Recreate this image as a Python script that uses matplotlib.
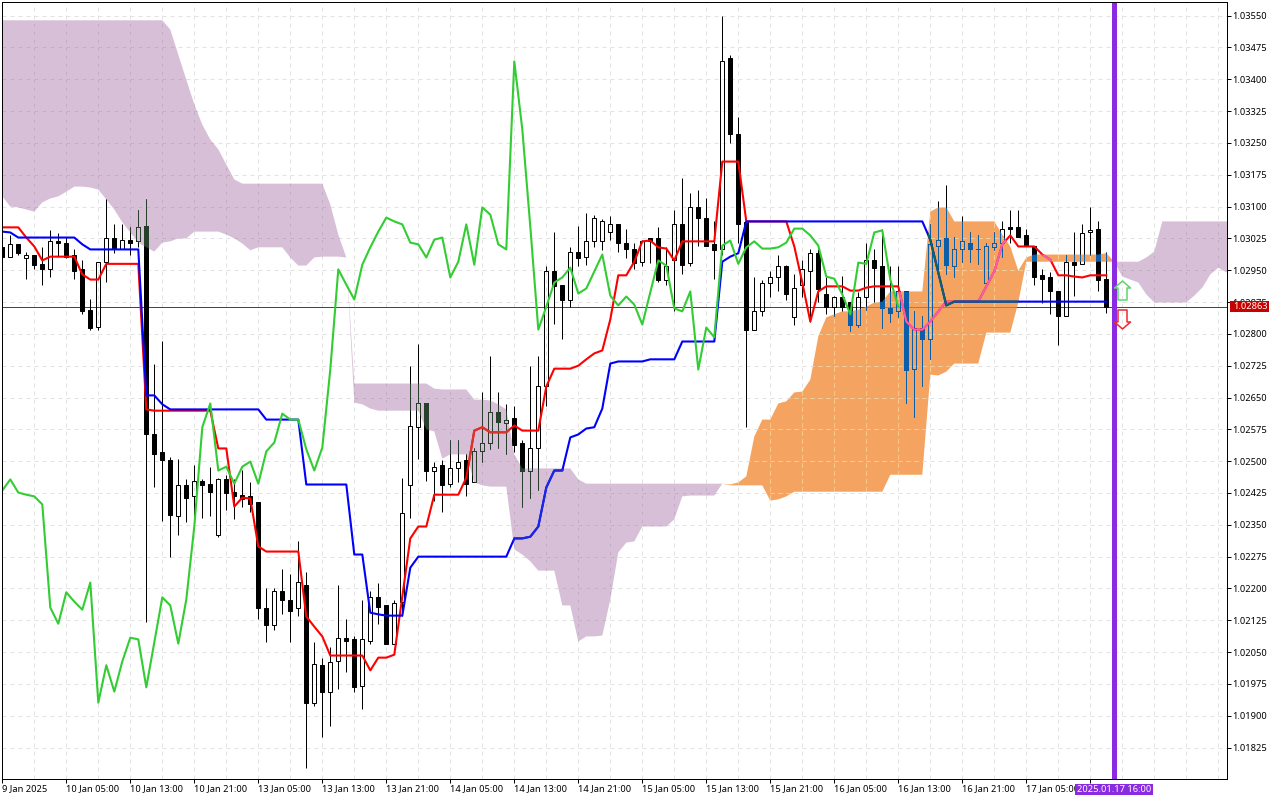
import numpy as np
import matplotlib
matplotlib.use("Agg")
import matplotlib.pyplot as plt
from matplotlib.path import Path
from matplotlib.patches import Rectangle

open_ = [1.03004,1.02980,1.03011,1.02978,1.02985,1.02965,1.02954,1.03018,1.03015,1.02985,
1.02952,1.02857,1.02817,1.02970,1.03027,1.02999,1.03022,1.03018,1.03055,1.02563,
1.02521,1.02502,1.02370,1.02445,1.02417,1.02454,1.02447,1.02325,1.02459,1.02428,
1.02421,1.02417,1.02403,1.02153,1.02115,1.02193,1.02172,1.02153,1.02209,1.01931,
1.02019,1.01955,1.02028,1.02084,1.02082,1.01969,1.02077,1.02179,1.02160,1.02070,
1.02167,1.02443,1.02580,1.02636,1.02476,1.02490,1.02447,1.02485,1.02502,1.02450,
1.02523,1.02544,1.02615,1.02591,1.02601,1.02542,1.02478,1.02532,1.02678,1.02949,
1.02914,1.02879,1.02992,1.02980,1.03018,1.03020,1.03041,1.03060,1.03013,1.03001,
1.02970,1.03025,1.03025,1.02928,1.02973,1.03058,1.02968,1.03098,1.03074,1.03011,
1.02999,1.03449,1.03272,1.03063,1.02810,1.02853,1.02921,1.02933,1.02959,1.02839,
1.02914,1.02949,1.02990,1.02895,1.02864,1.02888,1.02874,1.02820,1.02886,1.02975,
1.02959,1.02860,1.02853,1.02902,1.02718,1.02815,1.02789,1.03008,1.03025,1.02961,
1.03001,1.03015,1.03001,1.02919,1.03004,1.03013,1.03051,1.03051,1.03032,1.03006,
1.02938,1.02933,1.02902,1.02841,1.02970,1.02965,1.03039,1.03046,1.02930]
high = [1.03015,1.03034,1.03011,1.02994,1.02985,1.03004,1.03044,1.03037,1.03029,1.02999,
1.02973,1.02881,1.02970,1.03119,1.03058,1.03058,1.03053,1.03093,1.03117,1.02728,
1.02784,1.02511,1.02506,1.02459,1.02490,1.02459,1.02487,1.02461,1.02468,1.02457,
1.02480,1.02450,1.02403,1.02200,1.02202,1.02247,1.02235,1.02311,1.02240,1.02073,
1.02037,1.02061,1.02209,1.02127,1.02089,1.02174,1.02193,1.02214,1.02162,1.02174,
1.02461,1.02725,1.02775,1.02638,1.02499,1.02502,1.02551,1.02551,1.02516,1.02532,
1.02662,1.02749,1.02664,1.02634,1.02631,1.02551,1.02725,1.02747,1.02959,1.03041,
1.02914,1.03004,1.03055,1.03086,1.03081,1.03070,1.03077,1.03060,1.03048,1.03015,
1.03022,1.03027,1.03053,1.03004,1.03093,1.03168,1.03131,1.03140,1.03121,1.03065,
1.03548,1.03458,1.03310,1.03063,1.02933,1.02928,1.02947,1.02987,1.02963,1.02940,
1.02975,1.02999,1.02999,1.02935,1.02890,1.02937,1.02876,1.02898,1.03015,1.02999,
1.03046,1.02959,1.02961,1.02902,1.02853,1.02841,1.03058,1.03114,1.03150,1.03029,
1.03077,1.03039,1.03034,1.03013,1.03041,1.03067,1.03093,1.03091,1.03048,1.03006,
1.02952,1.02945,1.02902,1.02987,1.03039,1.03060,1.03098,1.03065,1.02994]
low = [1.02970,1.02980,1.02987,1.02930,1.02954,1.02916,1.02935,1.02980,1.02978,1.02930,
1.02846,1.02810,1.02810,1.02923,1.02990,1.02999,1.02987,1.03004,1.02122,1.02440,
1.02360,1.02273,1.02327,1.02356,1.02346,1.02367,1.02370,1.02322,1.02386,1.02363,
1.02391,1.02381,1.02127,1.02075,1.02101,1.02141,1.02073,1.02134,1.01776,1.01924,
1.01851,1.01875,1.01962,1.02002,1.01955,1.01917,1.02070,1.02117,1.02068,1.02068,
1.02134,1.02367,1.02504,1.02454,1.02405,1.02381,1.02438,1.02450,1.02419,1.02450,
1.02497,1.02528,1.02532,1.02516,1.02521,1.02393,1.02414,1.02433,1.02629,1.02824,
1.02787,1.02864,1.02961,1.02963,1.03004,1.02997,1.03022,1.02994,1.02978,1.02952,
1.02961,1.02968,1.02923,1.02916,1.02853,1.02940,1.02959,1.03006,1.03006,1.02930,
1.02987,1.03249,1.03015,1.02580,1.02808,1.02841,1.02888,1.02902,1.02879,1.02822,
1.02888,1.02829,1.02876,1.02846,1.02843,1.02853,1.02806,1.02817,1.02857,1.02876,
1.02815,1.02827,1.02839,1.02638,1.02603,1.02676,1.02740,1.02945,1.02942,1.02933,
1.02970,1.02970,1.02965,1.02914,1.02997,1.02980,1.03015,1.03029,1.03006,1.02916,
1.02872,1.02848,1.02773,1.02841,1.02890,1.02965,1.02987,1.02900,1.02850]
close = [1.02980,1.03011,1.02990,1.02985,1.02963,1.02952,1.03018,1.03015,1.02982,1.02947,
1.02855,1.02815,1.02970,1.03027,1.03001,1.03022,1.03013,1.03053,1.02563,1.02518,
1.02502,1.02372,1.02445,1.02414,1.02454,1.02445,1.02428,1.02459,1.02426,1.02419,
1.02410,1.02398,1.02153,1.02115,1.02193,1.02172,1.02148,1.02216,1.01931,1.02021,
1.01955,1.02026,1.02084,1.02077,1.01967,1.02080,1.02179,1.02157,1.02068,1.02165,
1.02377,1.02582,1.02638,1.02476,1.02487,1.02445,1.02485,1.02499,1.02447,1.02525,
1.02542,1.02615,1.02593,1.02598,1.02537,1.02476,1.02532,1.02678,1.02947,1.02912,
1.02879,1.02994,1.02978,1.03018,1.03074,1.03065,1.03060,1.03013,1.03001,1.02968,
1.03020,1.03018,1.02928,1.02961,1.03058,1.02963,1.03098,1.03072,1.03008,1.02997,
1.03444,1.03270,1.03058,1.02808,1.02855,1.02921,1.02933,1.02959,1.02893,1.02907,
1.02952,1.02990,1.02905,1.02864,1.02888,1.02864,1.02820,1.02888,1.02975,1.02956,
1.02860,1.02850,1.02900,1.02714,1.02815,1.02789,1.03011,1.03022,1.02963,1.03001,
1.03018,1.02999,1.02999,1.03006,1.03013,1.03048,1.03046,1.03029,1.03008,1.02935,
1.02930,1.02900,1.02843,1.02970,1.02963,1.03037,1.03044,1.02926,1.02863]

tenkan = [1.03051,1.03051,1.03051,1.03027,1.03006,1.02973,1.02982,1.02982,1.02982,1.02982,
1.02940,1.02928,1.02928,1.02965,1.02965,1.02965,1.02965,1.02965,1.02622,1.02619,
1.02619,1.02619,1.02619,1.02619,1.02619,1.02619,1.02619,1.02530,1.02530,1.02393,
1.02414,1.02412,1.02299,1.02287,1.02287,1.02287,1.02287,1.02287,1.02134,1.02110,
1.02087,1.02042,1.02042,1.02042,1.02042,1.02042,1.02007,1.02037,1.02037,1.02044,
1.02181,1.02318,1.02346,1.02346,1.02421,1.02421,1.02421,1.02421,1.02461,1.02572,
1.02580,1.02568,1.02568,1.02568,1.02584,1.02572,1.02572,1.02572,1.02676,1.02718,
1.02718,1.02718,1.02725,1.02740,1.02754,1.02761,1.02834,1.02938,1.02938,1.02970,
1.03018,1.03020,1.03004,1.03001,1.02973,1.03018,1.03018,1.03018,1.03018,1.03018,
1.03206,1.03206,1.03206,1.03065,1.03065,1.03065,1.03065,1.03065,1.03065,1.03006,
1.02921,1.02829,1.02900,1.02912,1.02912,1.02912,1.02902,1.02902,1.02909,1.02912,
1.02912,1.02912,1.02912,1.02829,1.02810,1.02810,1.02829,1.02853,1.02876,1.02876,
1.02876,1.02876,1.02876,1.02912,1.02947,1.03011,1.03032,1.03006,1.03006,1.03006,
1.02987,1.02975,1.02938,1.02938,1.02935,1.02933,1.02938,1.02938,1.02938]
kijun = [1.03041,1.03039,1.03027,1.03027,1.03027,1.03027,1.03027,1.03027,1.03027,1.03027,
1.03011,1.02999,1.02999,1.02999,1.02999,1.02999,1.02999,1.02999,1.02655,1.02655,
1.02634,1.02622,1.02622,1.02622,1.02622,1.02622,1.02622,1.02622,1.02622,1.02622,
1.02622,1.02622,1.02622,1.02598,1.02598,1.02598,1.02598,1.02598,1.02445,1.02445,
1.02445,1.02445,1.02445,1.02445,1.02280,1.02280,1.02143,1.02139,1.02136,1.02136,
1.02136,1.02249,1.02275,1.02275,1.02275,1.02275,1.02275,1.02275,1.02275,1.02275,
1.02275,1.02275,1.02275,1.02275,1.02318,1.02318,1.02322,1.02346,1.02438,1.02478,
1.02478,1.02556,1.02563,1.02577,1.02580,1.02624,1.02730,1.02735,1.02735,1.02735,
1.02735,1.02740,1.02740,1.02740,1.02740,1.02782,1.02782,1.02782,1.02782,1.02782,
1.02970,1.02982,1.02990,1.03065,1.03065,1.03065,1.03065,1.03065,1.03065,1.03065,
1.03065,1.03065,1.03065,1.03065,1.03065,1.03065,1.03065,1.03065,1.03065,1.03065,
1.03065,1.03065,1.03065,1.03065,1.03065,1.03065,1.03022,1.02945,1.02867,1.02876,
1.02876,1.02876,1.02876,1.02876,1.02876,1.02876,1.02876,1.02876,1.02876,1.02876,
1.02876,1.02876,1.02876,1.02876,1.02876,1.02876,1.02876,1.02876,1.02876]
chikou = [1.02431,1.02457,1.02426,1.02421,1.02417,1.02398,1.02155,1.02117,1.02191,1.02169,
1.02150,1.02214,1.01931,1.02019,1.01957,1.02028,1.02084,1.02080,1.01967,1.02073,
1.02179,1.02160,1.02070,1.02174,1.02346,1.02580,1.02636,1.02478,1.02487,1.02447,
1.02487,1.02499,1.02447,1.02523,1.02544,1.02612,1.02598,1.02598,1.02528,1.02478,
1.02532,1.02716,1.02952,1.02916,1.02881,1.02963,1.03004,1.03041,1.03074,1.03065,
1.03058,1.03015,1.03011,1.02980,1.03022,1.03027,1.02933,1.02970,1.03058,1.02963,
1.03098,1.03081,1.03011,1.02999,1.03442,1.03282,1.03053,1.02810,1.02864,1.02921,
1.02933,1.02956,1.02895,1.02907,1.02947,1.02987,1.02890,1.02867,1.02888,1.02869,
1.02822,1.02898,1.02973,1.02961,1.02860,1.02853,1.02900,1.02716,1.02815,1.02792,
1.03008,1.03020,1.02965,1.03004,1.03018,1.03001,1.03001,1.03004,1.03015,1.03048,
1.03048,1.03032,1.03008,1.02935,1.02930,1.02893,1.02846,1.02968,1.02965,1.03039,
1.03044,1.02928,1.02864]
senkou_a = [1.03124,1.03100,1.03098,1.03093,1.03088,1.03110,1.03119,1.03124,1.03135,1.03147,
1.03147,1.03145,1.03140,1.03117,1.03093,1.03063,1.03039,1.03015,1.03004,1.02994,
1.03015,1.03018,1.03025,1.03025,1.03041,1.03041,1.03041,1.03041,1.03034,1.03025,
1.03013,1.02997,1.03004,1.03004,1.03004,1.03004,1.02980,1.02961,1.02961,1.02980,
1.02982,1.02982,1.02982,1.02980,1.02638,1.02634,1.02624,1.02619,1.02619,1.02619,
1.02619,1.02619,1.02619,1.02575,1.02570,1.02506,1.02516,1.02516,1.02516,1.02450,
1.02443,1.02440,1.02440,1.02440,1.02292,1.02280,1.02264,1.02242,1.02242,1.02242,
1.02160,1.02160,1.02075,1.02087,1.02087,1.02089,1.02174,1.02285,1.02308,1.02311,
1.02346,1.02346,1.02346,1.02346,1.02363,1.02417,1.02419,1.02419,1.02419,1.02419,
1.02447,1.02445,1.02450,1.02464,1.02558,1.02598,1.02598,1.02636,1.02641,1.02662,
1.02664,1.02692,1.02794,1.02839,1.02846,1.02853,1.02853,1.02857,1.02864,1.02874,
1.02876,1.02900,1.02900,1.02900,1.02900,1.02900,1.03088,1.03098,1.03098,1.03065,
1.03065,1.03065,1.03065,1.03065,1.03065,1.03034,1.03006,1.02949,1.02980,1.02987,
1.02987,1.02987,1.02987,1.02987,1.02987,1.02987,1.02987,1.02987,1.02990,1.02970,
1.02935,1.02928,1.02921,1.02893,1.02874,1.02874,1.02874,1.02874,1.02874,1.02890,
1.02909,1.02940,1.02956,1.02945,1.02940]
senkou_b = [1.03539,1.03539,1.03539,1.03539,1.03539,1.03539,1.03539,1.03539,1.03539,1.03539,
1.03539,1.03539,1.03539,1.03539,1.03539,1.03539,1.03539,1.03539,1.03539,1.03539,
1.03539,1.03517,1.03458,1.03399,1.03341,1.03293,1.03258,1.03235,1.03199,1.03164,
1.03154,1.03154,1.03154,1.03154,1.03154,1.03154,1.03154,1.03154,1.03154,1.03154,
1.03154,1.03105,1.03034,1.02980,1.02683,1.02683,1.02683,1.02683,1.02683,1.02683,
1.02683,1.02683,1.02683,1.02683,1.02671,1.02669,1.02669,1.02669,1.02669,1.02645,
1.02645,1.02643,1.02634,1.02622,1.02516,1.02483,1.02483,1.02483,1.02483,1.02483,
1.02483,1.02483,1.02457,1.02447,1.02447,1.02447,1.02447,1.02447,1.02447,1.02447,
1.02447,1.02447,1.02447,1.02447,1.02447,1.02447,1.02447,1.02447,1.02447,1.02447,
1.02447,1.02443,1.02443,1.02443,1.02443,1.02443,1.02407,1.02410,1.02417,1.02428,
1.02428,1.02428,1.02428,1.02428,1.02428,1.02428,1.02428,1.02428,1.02428,1.02428,
1.02428,1.02468,1.02468,1.02468,1.02468,1.02468,1.02704,1.02702,1.02711,1.02730,
1.02730,1.02730,1.02730,1.02803,1.02803,1.02803,1.02803,1.02874,1.02970,1.02970,
1.02970,1.02970,1.02970,1.02970,1.02970,1.02970,1.02970,1.02970,1.02970,1.02970,
1.02970,1.02970,1.02970,1.02980,1.02994,1.03065,1.03065,1.03065,1.03065,1.03065,
1.03065,1.03065,1.03065,1.03065,1.03065]

price_ticks = [1.03550,1.03475,1.03400,1.03325,1.03250,1.03175,1.03100,1.03025,1.02950,1.02875,
1.02800,1.02725,1.02650,1.02575,1.02500,1.02425,1.02350,1.02275,1.02200,1.02125,
1.02050,1.01975,1.01900,1.01825]
time_labels = ["9 Jan 2025","10 Jan 05:00","10 Jan 13:00","10 Jan 21:00","13 Jan 05:00","13 Jan 13:00",
"13 Jan 21:00","14 Jan 05:00","14 Jan 13:00","14 Jan 21:00","15 Jan 05:00","15 Jan 13:00",
"15 Jan 21:00","16 Jan 05:00","16 Jan 13:00","16 Jan 21:00","17 Jan 05:00",""]
last_price = 1.02863
cursor_bar = 139
cursor_label = "2025.01.17 16:00"
signal_up_price = 1.02903
signal_down_price = 1.02834
signal_bar = 140

W, H = 1280, 800
FONT = "Noto Sans"
LABEL_SIZE = 6.7
fig = plt.figure(figsize=(W / 100, H / 100), dpi=100, facecolor="white")
L, R, T, B = 2, 1227, 2, 779
ax = fig.add_axes([L / W, (H - B) / H, (R - L) / W, (B - T) / H])

XMIN, XMAX = (L - 2.3) / 8, (R - 2.3) / 8
SHIFT = 1.2e-5
YMIN, YMAX = 1.03588 - B * 2.3566e-5 - SHIFT, 1.03588 - T * 2.3566e-5 - SHIFT

o, h, l, c = map(np.array, (open_, high, low, close))
bars = np.arange(len(o))
a, b = np.array(senkou_a), np.array(senkou_b)
cx = np.arange(len(a))

purple = ax.fill_between(cx, a, b, where=a <= b, color="#d8bfd8", lw=0, zorder=1)
orange = ax.fill_between(cx, a, b, where=a >= b, color="#f4a460", lw=0, zorder=1)


def compound(coll):
    return Path.make_compound_path(*coll.get_paths())


grid_x = np.arange(0, 156, 4)
dash = (0, (4, 4))
HAIR = 0.72
THICK = 1.5


def layer(col, clip=None):
    made = []
    made.append(ax.hlines(price_ticks, XMIN, XMAX, colors=col["grid"], linestyles=[dash], lw=HAIR, zorder=2))
    made.append(ax.vlines(grid_x, YMIN, YMAX, colors=col["grid"], linestyles=[dash], lw=HAIR, zorder=2))
    made.extend(ax.plot([XMIN, XMAX], [last_price, last_price], color=col["last"], lw=0.7, zorder=3,
                        solid_capstyle="butt"))
    top = np.maximum(o, c)
    bot = np.minimum(o, c)
    made.append(ax.vlines(bars, top, h, colors=col["candle"], lw=HAIR, zorder=4))
    made.append(ax.vlines(bars, l, bot, colors=col["candle"], lw=HAIR, zorder=4))
    faces = [col["candle"] if cc < oo else "none" for oo, cc in zip(o, c)]
    cont = ax.bar(bars, top - bot, bottom=bot, width=0.5, color=faces,
                  edgecolor=col["candle"], lw=HAIR, zorder=4.2)
    made.extend(cont.patches)
    made.extend(ax.plot(bars, tenkan, color=col["red"], lw=THICK, zorder=5))
    made.extend(ax.plot(bars, kijun, color=col["blue"], lw=THICK, zorder=6))
    if clip is not None:
        for art in made:
            art.set_clip_path(clip, ax.transData)


layer(dict(grid="#e2e2e2", last="#e00000", candle="#000000", red="#ff0000", blue="#0000ff"))
layer(dict(grid="#c4aec6", last="#cc2020", candle="#273f2b", red="#d9362a", blue="#1a28e0"), compound(purple))
layer(dict(grid="#f6ca8c", last="#d060a8", candle="#0b5fa8", red="#f45fb0", blue="#0a6464"), compound(orange))

ax.plot(np.arange(len(chikou)), chikou, color="#32cd32", lw=THICK, zorder=7)

ax.axvline(cursor_bar, color="#8a2be2", lw=3.6, zorder=8)

up = Path([(0, 9.5), (8, 2.5), (4.5, 2.5), (4.5, -9.5), (-4.5, -9.5), (-4.5, 2.5), (-8, 2.5), (0, 9.5)], closed=True)
down = Path([(0, -9.5), (8, -2.5), (4.5, -2.5), (4.5, 9.5), (-4.5, 9.5), (-4.5, -2.5), (-8, -2.5), (0, -9.5)], closed=True)
ax.plot([signal_bar], [signal_up_price], marker=up, ms=13.7, mfc="none", mec="#5ad86a", mew=1.1, zorder=9, ls="none")
ax.plot([signal_bar], [signal_down_price], marker=down, ms=13.7, mfc="none", mec="#f02a2a", mew=1.1, zorder=9, ls="none")

ax.set_xlim(XMIN, XMAX)
ax.set_ylim(YMIN, YMAX)
ax.yaxis.tick_right()
ax.set_yticks(price_ticks, [f"{t:.5f}" for t in price_ticks], fontfamily=FONT, fontsize=LABEL_SIZE)
ax.set_xticks(np.arange(len(time_labels)) * 8, time_labels, fontfamily=FONT, fontsize=LABEL_SIZE, ha="left")
ax.tick_params(axis="both", length=2.9, width=HAIR, color="black", labelcolor="black")
ax.tick_params(axis="x", pad=1.0)
ax.tick_params(axis="y", pad=0.5)
for s in ax.spines.values():
    s.set_linewidth(HAIR)
    s.set_color("black")
    s.set_zorder(10)


def px_rect(x0, y0, x1, y1, color):
    fig.add_artist(Rectangle((x0 / W, 1 - y1 / H), (x1 - x0) / W, (y1 - y0) / H,
                             transform=fig.transFigure, facecolor=color, edgecolor="none", zorder=5))


px_rect(1229.5, 301, 1269, 312, "#c80000")
fig.text(1233 / W, 1 - 306.5 / H, f"{last_price:.5f}", color="white", fontfamily=FONT, fontsize=LABEL_SIZE,
         va="center", ha="left", zorder=6)
px_rect(1075, 784, 1153, 794.5, "#8a2be2")
fig.text(1114 / W, 1 - 789.2 / H, cursor_label, color="white", fontfamily=FONT, fontsize=LABEL_SIZE,
         va="center", ha="center", zorder=6)

fig.savefig("out.png", dpi=100, facecolor="white")
